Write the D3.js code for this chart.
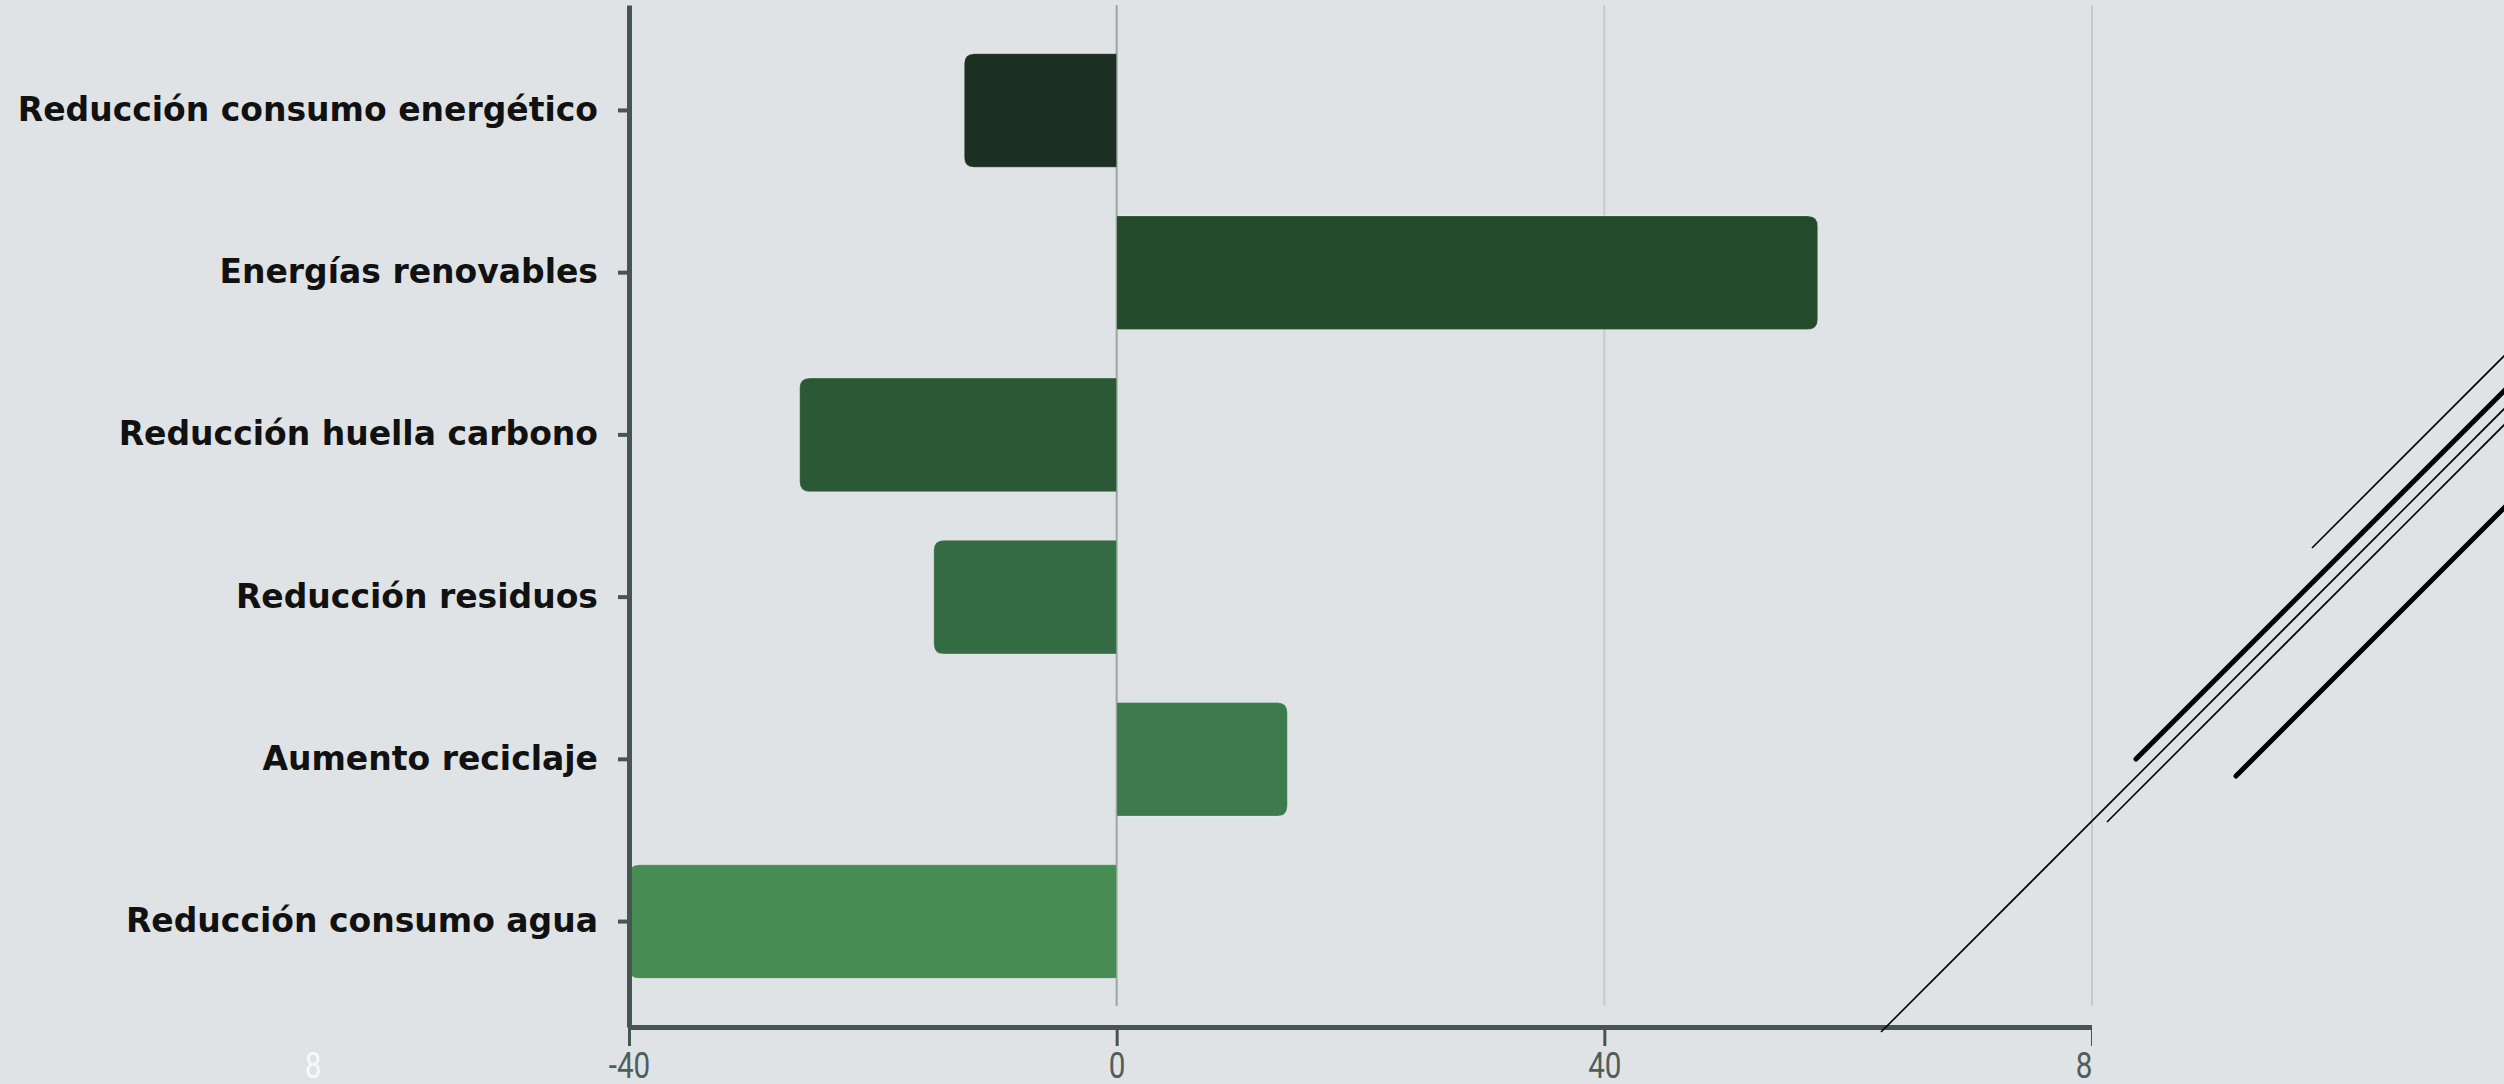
<!DOCTYPE html>
<html>
<head>
<meta charset="utf-8">
<script src="https://cdn.jsdelivr.net/npm/d3@7"></script>
<style>
  html, body { margin: 0; padding: 0; background: #dfe3e6; overflow: hidden; }
</style>
</head>
<body>
<div id="chart"></div>
<script>
// bar data, top to bottom
const categories = [
    "Reducción consumo energético",
    "Energías renovables",
    "Reducción huella carbono",
    "Reducción residuos",
    "Aumento reciclaje",
    "Reducción consumo agua"
];
const values = [-12.5, 57.5, -26, -15, 14, -40];
const barColors = ["#1b3022", "#234a2b", "#2b5935", "#346b42", "#3d7a4c", "#468c53"];
const xTicks = [-40, 0, 40, 80];

// stray diagonal strokes on the right side (start point, width)
const strokes = [
    {x: 2312, y: 548, w: 1.6},
    {x: 2136, y: 759, w: 5},
    {x: 1881, y: 1032, w: 1.6},
    {x: 2107, y: 822, w: 1.6},
    {x: 2236, y: 776, w: 5}
];

const margin = {top: 5, right: 412, bottom: 57, left: 629},
      width = 2504 - margin.left - margin.right,
      height = 1084 - margin.top - margin.bottom;

const root = d3.select("#chart")
    .append("svg")
    .attr("width", 2504)
    .attr("height", 1084)
    .style("display", "block");

root.append("rect")
    .attr("width", 2504)
    .attr("height", 1084)
    .attr("fill", "#dfe3e6");

const svg = root.append("g")
    .attr("transform", `translate(${margin.left},${margin.top})`);

const x = d3.scaleLinear()
    .domain([-40, 80])
    .range([0, width]);

const y = d3.scaleBand()
    .domain(categories)
    .range([0, height])
    .paddingInner(0.3)
    .paddingOuter(0.3);

// grid lines
svg.append("g")
    .selectAll("line")
    .data(xTicks.filter(d => d > 0))
    .enter()
    .append("line")
    .attr("x1", d => x(d))
    .attr("x2", d => x(d))
    .attr("y1", 0)
    .attr("y2", height - 21)
    .attr("stroke", "#c5cacc")
    .attr("stroke-width", 2);

svg.append("line") /* zero line */
    .attr("x1", x(0))
    .attr("x2", x(0))
    .attr("y1", 0)
    .attr("y2", height - 21)
    .attr("stroke", "#9ea3a4")
    .attr("stroke-width", 2);

// bars, rounded only on the far end
function barPath(d, i) {
    const r = 10;
    const x0 = x(0), x1 = x(d);
    const top = y(categories[i]), bot = top + y.bandwidth();
    const s = x1 < x0 ? -1 : 1;
    return `M${x0},${top} L${x1 - s * r},${top} Q${x1},${top} ${x1},${top + r}` +
           ` L${x1},${bot - r} Q${x1},${bot} ${x1 - s * r},${bot} L${x0},${bot} Z`;
}

svg.append("g")
    .selectAll("path")
    .data(values)
    .enter()
    .append("path")
    .attr("d", barPath)
    .attr("fill", (d, i) => barColors[i])
    .attr("stroke", "#ffffff")
    .attr("stroke-opacity", 0.25)
    .attr("stroke-width", 1);

// axes
const axisColor = "#44564f";

const yAxis = svg.append("g")
    .call(d3.axisLeft(y).tickSize(11).tickSizeOuter(0).tickPadding(20));
yAxis.select(".domain").attr("stroke", axisColor).attr("stroke-width", 5);
yAxis.selectAll(".tick line").attr("stroke", axisColor).attr("stroke-width", 4);
yAxis.selectAll(".tick text")
    .attr("fill", "#111111")
    .style("font-family", "'DejaVu Sans', sans-serif")
    .style("font-weight", "bold")
    .style("font-size", "33px");

root.append("clipPath")
    .attr("id", "axisClip")
    .append("rect")
    .attr("x", -80)
    .attr("y", -20)
    .attr("width", width + 80)
    .attr("height", 100);

const xAxis = svg.append("g")
    .attr("transform", `translate(0,${height})`)
    .attr("clip-path", "url(#axisClip)")
    .call(d3.axisBottom(x).tickValues(xTicks).tickFormat(d => String(d))
        .tickSize(19).tickSizeOuter(0).tickPadding(6));
xAxis.select(".domain").attr("stroke", axisColor).attr("stroke-width", 5);
xAxis.selectAll(".tick line").attr("stroke", axisColor).attr("stroke-width", 3);
xAxis.selectAll(".tick text")
    .attr("fill", "#4f5e59")
    .attr("transform", "scale(0.8,1)")
    .style("font-family", "Roboto, sans-serif")
    .style("font-weight", "400")
    .style("font-size", "37px");

// faint stray label at bottom left
root.append("text")
    .attr("x", 313)
    .attr("y", 1052)
    .attr("dy", "0.71em")
    .attr("text-anchor", "middle")
    .attr("transform", "translate(313,0) scale(0.8,1) translate(-313,0)")
    .attr("fill", "#f7f9f9")
    .style("font-family", "Roboto, sans-serif")
    .style("font-weight", "400")
    .style("font-size", "37px")
    .text("8");

// diagonal strokes
root.append("g")
    .selectAll("line")
    .data(strokes)
    .enter()
    .append("line")
    .attr("x1", d => d.x)
    .attr("y1", d => d.y)
    .attr("x2", d => d.x + 700)
    .attr("y2", d => d.y - 700)
    .attr("stroke", "#000000")
    .attr("stroke-width", d => d.w)
    .attr("stroke-linecap", d => d.w > 3 ? "round" : "butt");
</script>
</body>
</html>
